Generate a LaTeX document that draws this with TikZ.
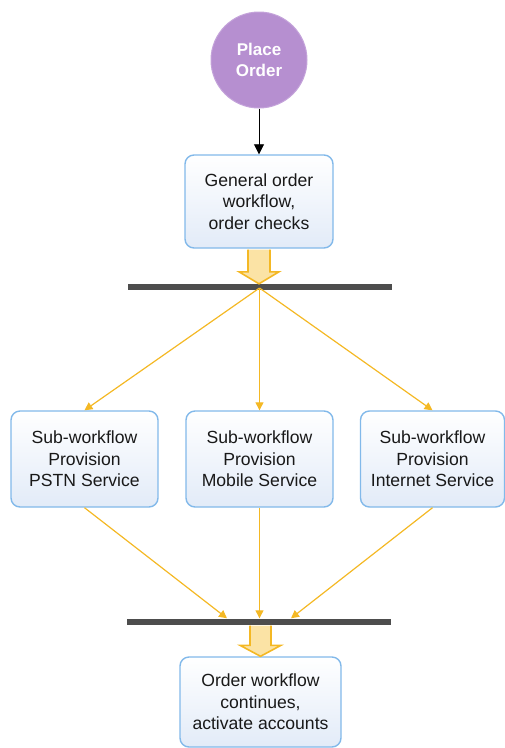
\documentclass[tikz,border=0pt]{standalone}
\usepackage{fontspec}
\setmainfont{Liberation Sans}
\usetikzlibrary{arrows.meta,calc}
\definecolor{boxborder}{HTML}{82B9EA}
\definecolor{boxbot}{HTML}{E2EBF8}
\definecolor{purp}{HTML}{B68FD0}
\definecolor{purpb}{HTML}{C4A3DA}
\definecolor{ylw}{HTML}{F4B824}
\definecolor{ylwfill}{HTML}{FBE3A5}
\definecolor{barc}{HTML}{4D4D4D}
\tikzset{
  wbox/.style={draw=boxborder, line width=1.4pt, rounded corners=9pt, top color=white, bottom color=boxbot, align=center, font=\fontsize{17.6}{21.5}\selectfont, text=black!90},
  barnode/.style={fill=barc, minimum width=264pt, minimum height=6pt, inner sep=0pt},
  yline/.style={draw=ylw, line width=1.2pt, -{Triangle[length=8pt,width=8pt]}},
  fat/.style={draw=ylw, fill=ylwfill, line width=1.6pt, line join=miter},
}
\begin{document}
\begin{tikzpicture}[x=1pt,y=-1pt]
\useasboundingbox (0,0) rectangle (505,748);
\node[circle, fill=purp, draw=purpb, line width=1pt, minimum size=96pt, inner sep=0pt, text=white, font=\fontsize{17}{21.5}\selectfont\bfseries, align=center] (start) at (259,60) {Place\\Order};
\node[wbox, minimum width=148pt, minimum height=93pt] (g) at (259,201.5) {General order\\workflow,\\order checks};
\draw[-{Triangle[length=10pt,width=10pt]}, line width=0.8pt] (start) -- (g);
\node[barnode] (bar1) at (260,287) {};
\node[wbox, minimum width=147pt, minimum height=96pt] (p) at (84.5,459) {Sub-workflow\\Provision\\PSTN Service};
\node[wbox, minimum width=147pt, minimum height=96pt] (m) at (259.5,459) {Sub-workflow\\Provision\\Mobile Service};
\node[wbox, minimum width=144pt, minimum height=96pt] (i) at (432.5,459) {Sub-workflow\\Provision\\Internet Service};
\node[barnode] (bar2) at (259,621.5) {};
\node[wbox, minimum width=161pt, minimum height=90pt] (o) at (260.5,702) {Order workflow\\continues,\\activate accounts};
% fat arrows
\draw[fat] ($(g.south)+(-11,1)$) -- ($(bar1.north)+(-11-1,-12)$) -- ($(bar1.north)+(-21,-12)$) -- ($(bar1.north)+(-1,0)$) -- ($(bar1.north)+(19,-12)$) -- ($(bar1.north)+(10,-12)$) -- ($(g.south)+(11,1)$);
\draw[fat] ($(bar2.south)+(-9,1)$) -- ($(o.north)+(-10.5,-11)$) -- ($(o.north)+(-20.5,-11)$) -- (o.north) -- ($(o.north)+(20.5,-11)$) -- ($(o.north)+(10.5,-11)$) -- ($(bar2.south)+(12,1)$);
% fan out
\coordinate (f) at (259.5,288);
\draw[yline] (f) -- (p.north);
\draw[yline] (f) -- (m.north);
\draw[yline] (f) -- (i.north);
% fan in
\draw[yline] (p.south) -- ($(bar2.north)+(-32,0)$);
\draw[yline] (m.south) -- (m.south |- bar2.north);
\draw[yline] (i.south) -- ($(bar2.north)+(32,0)$);
\end{tikzpicture}
\end{document}
